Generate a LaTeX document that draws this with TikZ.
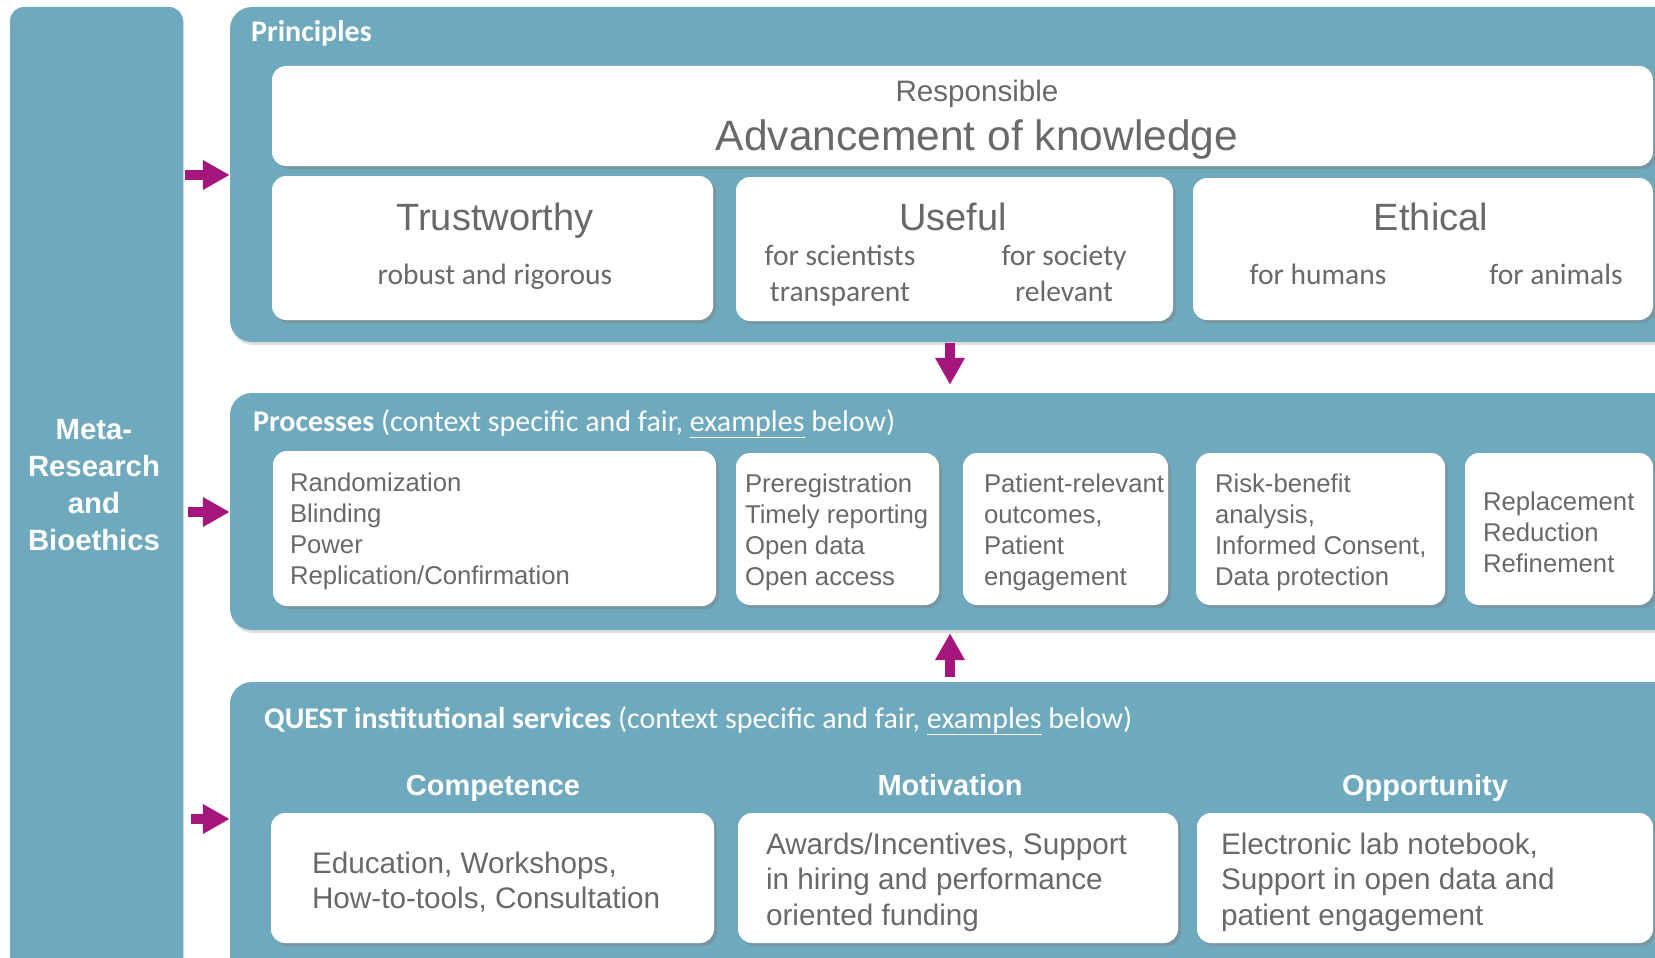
\documentclass[tikz,border=0pt]{standalone}
\usepackage{fontspec}
\setmainfont{Liberation Sans}
\newfontfamily\calib{Carlito}
\usetikzlibrary{arrows.meta,shadows,positioning}
\definecolor{questteal}{RGB}{110,169,190}
\definecolor{textgray}{RGB}{105,105,105}
\definecolor{arrowpink}{RGB}{165,22,125}

\begin{document}
\begin{tikzpicture}[x=1pt,y=-1pt]
	\tikzstyle{panel}=[fill=questteal, rounded corners=22pt, inner sep=0,
		drop shadow={shadow xshift=1pt, shadow yshift=-3pt, opacity=0.25}]
	\tikzstyle{wbox}=[fill=white, rounded corners=14pt, inner sep=0,
		drop shadow={shadow xshift=3pt, shadow yshift=-3pt, opacity=0.45}]
	\tikzstyle{paneltitle}=[text=white, font=\calib\fontsize{30}{35}\selectfont, anchor=base west, inner sep=0]
	\tikzstyle{head}=[text=textgray, font=\fontsize{38}{45}\selectfont, anchor=base, inner sep=0]
	\tikzstyle{sub}=[text=textgray, font=\calib\fontsize{29.5}{35}\selectfont, anchor=base, inner sep=0]
	\tikzstyle{ptext}=[text=textgray, font=\fontsize{25.7}{31}\selectfont, align=left, anchor=west, inner sep=0]
	\tikzstyle{qtext}=[text=textgray, font=\fontsize{29.7}{35.5}\selectfont, align=left, anchor=west, inner sep=0]
	\tikzstyle{qhead}=[text=white, font=\bfseries\fontsize{29}{35}\selectfont, anchor=base, inner sep=0]
	\tikzstyle{bigarrow}=[draw=arrowpink, line width=10pt, -{Triangle[width=28pt,length=27pt]}]
	\useasboundingbox (0,0) rectangle (1655,958);

	% left bar and the three panels
	\node[panel, rounded corners=14pt, minimum width=173pt, minimum height=983pt] (meta) at (96.5,498.5) {};
	\node[text=white, font=\bfseries\fontsize{29.3}{37}\selectfont, align=center] (metatext) at (94,485)
		{Meta-\\Research\\and\\Bioethics};
	\node[panel, minimum width=1490pt, minimum height=335pt] (princ) at (975,174.5) {};
	\node[panel, minimum width=1490pt, minimum height=237pt] (proc) at (975,511.5) {};
	\node[panel, minimum width=1490pt, minimum height=328pt] (quest) at (975,846) {};

	% principles
	\node[paneltitle] (princtitle) at (251,42) {\bfseries Principles};
	\node[wbox, minimum width=1381pt, minimum height=100pt] (resp) at (962.5,116) {};
	\node[text=textgray, font=\fontsize{29.6}{35}\selectfont, anchor=base, inner sep=0] (resptext) at (977,102) {Responsible};
	\node[text=textgray, font=\fontsize{42.5}{50}\selectfont, anchor=base, inner sep=0] (advtext) at (977,150) {Advancement of knowledge};

	\node[wbox, minimum width=441pt, minimum height=144pt] (trust) at (492.5,248) {};
	\node[head] (trusttext) at (495,230) {Trustworthy};
	\node[sub] (robust) at (495,284) {robust and rigorous};

	\node[wbox, minimum width=437pt, minimum height=144pt] (useful) at (954.5,249) {};
	\node[head] (usefultext) at (953,230) {Useful};
	\node[sub] (sci) at (840,265) {for scientists};
	\node[sub] (transp) at (840,301) {transparent};
	\node[sub] (soc) at (1064,265) {for society};
	\node[sub] (relev) at (1064,301) {relevant};

	\node[wbox, minimum width=460pt, minimum height=142pt] (ethic) at (1423,249) {};
	\node[head] (ethictext) at (1431,230) {Ethical};
	\node[sub] (humans) at (1318,284) {for humans};
	\node[sub] (animals) at (1556,284) {for animals};

	% processes
	\node[paneltitle] (proctitle) at (253,431)
		{{\bfseries Processes} (context specific and fair, \underline{examples} below)};
	\node[wbox, minimum width=443pt, minimum height=155pt] (p1) at (494.5,528.5) {};
	\node[wbox, minimum width=203pt, minimum height=152pt] (p2) at (837.5,529) {};
	\node[wbox, minimum width=205pt, minimum height=152pt] (p3) at (1065.5,529) {};
	\node[wbox, minimum width=249pt, minimum height=152pt] (p4) at (1320.5,529) {};
	\node[wbox, minimum width=188pt, minimum height=152pt] (p5) at (1559,529) {};
	\node[ptext] (p1text) at ([xshift=17pt,yshift=-3pt]p1.west) {Randomization\\Blinding\\Power\\Replication/Confirmation};
	\node[ptext] (p2text) at ([xshift=9pt,yshift=-3pt]p2.west) {Preregistration\\Timely reporting\\Open data\\Open access};
	\node[ptext] (p3text) at ([xshift=21pt,yshift=-3pt]p3.west) {Patient-relevant\\outcomes,\\Patient\\engagement};
	\node[ptext] (p4text) at ([xshift=19pt,yshift=-3pt]p4.west) {Risk-benefit\\analysis,\\Informed Consent,\\Data protection};
	\node[ptext] (p5text) at ([xshift=18pt,yshift=-3pt]p5.west) {Replacement\\Reduction\\Refinement};

	% institutional services
	\node[paneltitle] (questtitle) at (264,728)
		{{\bfseries QUEST institutional services} (context specific and fair, \underline{examples} below)};
	\node[qhead] (comp) at (493,795) {Competence};
	\node[qhead] (motiv) at (950,795) {Motivation};
	\node[qhead] (oppo) at (1425,795) {Opportunity};
	\node[wbox, minimum width=443pt, minimum height=130pt] (q1) at (492.5,878) {};
	\node[wbox, minimum width=440pt, minimum height=130pt] (q2) at (958,878) {};
	\node[wbox, minimum width=456pt, minimum height=130pt] (q3) at (1425,878) {};
	\node[qtext] (q1text) at ([xshift=41pt,yshift=-4pt]q1.west) {Education, Workshops,\\How-to-tools, Consultation};
	\node[qtext] (q2text) at ([xshift=28pt,yshift=-4pt]q2.west) {Awards/Incentives, Support\\in hiring and performance\\oriented funding};
	\node[qtext] (q3text) at ([xshift=24pt,yshift=-4pt]q3.west) {Electronic lab notebook,\\Support in open data and\\patient engagement};

	% arrows
	\coordinate (ya) at (0,175);
	\coordinate (yb) at (0,512);
	\coordinate (yc) at (0,819);
	\coordinate (xm) at (950,0);
	\draw[bigarrow, shorten <=2pt] (meta.east |- ya) -- (princ.west |- ya);
	\draw[bigarrow, shorten <=5pt] (meta.east |- yb) -- (proc.west |- yb);
	\draw[bigarrow, shorten <=8pt] (meta.east |- yc) -- (quest.west |- yc);
	\draw[bigarrow, shorten <=1pt, shorten >=8pt] (princ.south -| xm) -- (proc.north -| xm);
	\draw[bigarrow, shorten <=5pt, shorten >=3pt] (quest.north -| xm) -- (proc.south -| xm);
\end{tikzpicture}
\end{document}
